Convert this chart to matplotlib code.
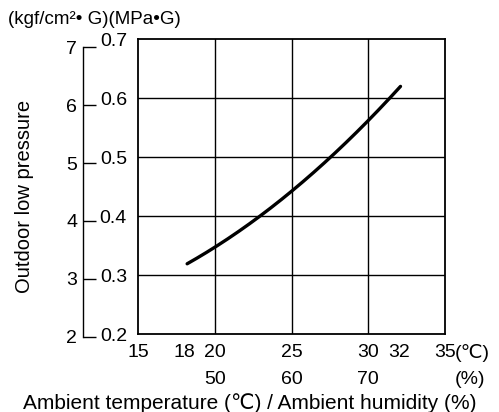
import numpy as np
import matplotlib
matplotlib.use('Agg')
from matplotlib import pyplot as plt
from matplotlib.transforms import blended_transform_factory

plt.rcParams['font.family'] = ['Liberation Sans', 'DejaVu Sans', 'Noto Sans CJK JP']

# curve
temp = [18.2, 20, 23, 25, 27.6, 30, 32.1]
pressure = [0.32, 0.347, 0.40, 0.445, 0.50, 0.563, 0.62]

temp_ticks = [15, 18, 20, 25, 30, 32, 35]
grid_temps = [20, 25, 30]
humidity_ticks = [50, 60, 70]
mpa_ticks = [0.2, 0.3, 0.4, 0.5, 0.6, 0.7]
kgf_ticks = [2, 3, 4, 5, 6, 7]
KGF = 0.0980665  # MPa per kgf/cm2

fs = 14
left, bottom, width, height = 0.2766, 0.1886, 0.6152, 0.7160
ymin, ymax = 0.2, 0.7

fig = plt.figure(figsize=(4.99, 4.12), dpi=100)
ax = fig.add_axes([left, bottom, width, height])

t_s = np.linspace(temp[0], temp[-1], 200)
c = np.polyfit(temp, pressure, 2)
ax.plot(t_s, np.polyval(c, t_s), color='black', lw=2.4, solid_capstyle='round')

for g in grid_temps:
    ax.axvline(g, color='black', lw=1.0)
for m in mpa_ticks[1:-1]:
    ax.axhline(m, color='black', lw=1.0)

ax.set_xlim(15, 35)
ax.set_ylim(ymin, ymax)
for s in ax.spines.values():
    s.set_linewidth(1.3)

ax.set_xticks(temp_ticks)
ax.set_xticklabels([str(t) for t in temp_ticks])
ax.set_yticks(mpa_ticks)
ax.set_yticklabels(['%.1f' % m for m in mpa_ticks])
ax.tick_params(axis='both', length=0, labelsize=fs)
ax.tick_params(axis='x', pad=7)
ax.tick_params(axis='y', pad=8)

tr = blended_transform_factory(ax.transData, ax.transAxes)
for t, h in zip(grid_temps, humidity_ticks):
    ax.text(t, -0.125, str(h), transform=tr, ha='center', va='top', fontsize=fs)
ax.text(35.65, -0.034, '(℃)', transform=tr, ha='left', va='top', fontsize=fs)
ax.text(36.65, -0.125, '(%)', transform=tr, ha='center', va='top', fontsize=fs)

# kgf/cm2 scale: separate axes stretched a little below so the "2" tick shows
lo = 0.19
scale = height / (ymax - ymin)
ax2 = fig.add_axes([left, bottom - (ymin - lo) * scale, width, (ymax - lo) * scale])
ax2.patch.set_visible(False)
ax2.set_ylim(lo / KGF, ymax / KGF)
ax2.set_xticks([])
for k in ['top', 'right', 'bottom']:
    ax2.spines[k].set_visible(False)
ax2.spines['left'].set_position(('axes', -0.178))
ax2.spines['left'].set_bounds(kgf_ticks[0], kgf_ticks[-1])
ax2.spines['left'].set_linewidth(1.0)
ax2.set_yticks(kgf_ticks)
ax2.set_yticklabels([str(k) for k in kgf_ticks])
ax2.tick_params(axis='y', direction='in', length=9.5, width=1.0, labelsize=fs, pad=4.5)

fig.text(8 / 499, 1 - 20 / 412, '(kgf/cm²• G)(MPa•G)', fontsize=13.5, ha='left', va='center')
fig.text(25 / 499, 1 - 196 / 412, 'Outdoor low pressure', rotation=90, fontsize=14.5,
         ha='center', va='center')
fig.text(250 / 499, 1 - 403 / 412, 'Ambient temperature (℃) / Ambient humidity (%)',
         fontsize=15, ha='center', va='center')

plt.savefig('out.png', dpi=100)
plt.close()
